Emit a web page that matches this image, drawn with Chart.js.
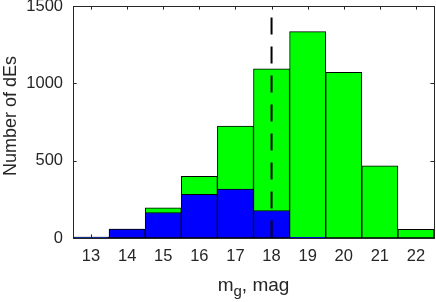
<!DOCTYPE html>
<html lang="en">
<head>
    <meta charset="UTF-8">
    <title>Number of dEs</title>
    <script src="https://cdn.jsdelivr.net/npm/chart.js"></script>
    <style>
        body {
            margin: 0;
            background-color: #fff;
        }
        #wrap {
            width: 436px;
            height: 302px;
        }
    </style>
</head>
<body>

<div id="wrap">
    <canvas id="histChart" width="436" height="302"></canvas>
</div>

<script>
// bin centres and counts
const mags = [13, 14, 15, 16, 17, 18, 19, 20, 21, 22];
const allCounts = [6, 58, 195, 399, 723, 1093, 1334, 1071, 467, 56];
const blueCounts = [6, 58, 165, 282, 316, 178, 4, 0, 0, 0];
const xTicks = [13, 14, 15, 16, 17, 18, 19, 20, 21, 22];
const yTicks = [0, 500, 1000, 1500];
const cutMag = 18;
const cutTop = 1425;

const axisColor = '#262626';
const fontName = "'Liberation Sans', Arial, sans-serif";

// box round the plot with inward ticks, MATLAB style
const boxPlugin = {
    id: 'box',
    beforeDatasetsDraw(chart) {
        const ctx = chart.ctx;
        const a = chart.chartArea;
        const xs = chart.scales.x;
        const ys = chart.scales.y;
        const len = 3.6;
        ctx.save();
        ctx.strokeStyle = axisColor;
        ctx.lineWidth = 1;
        ctx.beginPath();
        xTicks.forEach(v => {
            const px = Math.round(xs.getPixelForValue(v)) + 0.5;
            ctx.moveTo(px, a.bottom);
            ctx.lineTo(px, a.bottom - len);
            ctx.moveTo(px, a.top);
            ctx.lineTo(px, a.top + len);
        });
        yTicks.forEach(v => {
            const py = Math.round(ys.getPixelForValue(v)) + 0.5;
            ctx.moveTo(a.left, py);
            ctx.lineTo(a.left + len, py);
            ctx.moveTo(a.right, py);
            ctx.lineTo(a.right - len, py);
        });
        ctx.stroke();
        ctx.restore();
    },
    afterDraw(chart) {
        const ctx = chart.ctx;
        const a = chart.chartArea;
        ctx.save();
        ctx.strokeStyle = axisColor;
        ctx.lineWidth = 1;
        ctx.strokeRect(Math.round(a.left) + 0.5, Math.round(a.top) + 0.5,
            Math.round(a.right - a.left), Math.round(a.bottom - a.top));

        // axis titles
        ctx.fillStyle = axisColor;
        ctx.textBaseline = 'alphabetic';

        // x title with subscript g
        const big = '19px ' + fontName;
        const small = '15px ' + fontName;
        ctx.font = big;
        const w1 = ctx.measureText('m').width;
        const w3 = ctx.measureText(', mag').width;
        ctx.font = small;
        const w2 = ctx.measureText('g').width;
        const total = w1 + w2 + w3;
        let x = (a.left + a.right) / 2 - total / 2;
        const base = 291;
        ctx.textAlign = 'left';
        ctx.font = big;
        ctx.fillText('m', x, base);
        x += w1;
        ctx.font = small;
        ctx.fillText('g', x, base + 5);
        x += w2;
        ctx.font = big;
        ctx.fillText(', mag', x, base);

        // y title
        ctx.translate(16, 116);
        ctx.rotate(-Math.PI / 2);
        ctx.textAlign = 'center';
        ctx.font = '18px ' + fontName;
        ctx.fillText('Number of dEs', 0, 0);
        ctx.restore();
    }
};

const ctx = document.getElementById('histChart').getContext('2d');

new Chart(ctx, {
    type: 'bar',
    data: {
        datasets: [
            {
                type: 'line',
                data: [{x: cutMag, y: cutTop}, {x: cutMag, y: 0}],
                borderColor: '#000',
                borderWidth: 2,
                borderDash: [17, 12],
                pointRadius: 0,
                fill: false,
                order: 0
            },
            {
                data: mags.map((m, i) => ({x: m, y: blueCounts[i]})),
                backgroundColor: '#0000ff',
                borderColor: '#000',
                borderWidth: 1,
                borderSkipped: false,
                grouped: false,
                barPercentage: 1,
                categoryPercentage: 1,
                order: 1
            },
            {
                data: mags.map((m, i) => ({x: m, y: allCounts[i]})),
                backgroundColor: '#00ff00',
                borderColor: '#000',
                borderWidth: 1,
                borderSkipped: false,
                grouped: false,
                barPercentage: 1,
                categoryPercentage: 1,
                order: 2
            }
        ]
    },
    options: {
        responsive: false,
        animation: false,
        layout: {
            padding: {top: 6, right: 2, left: 0, bottom: 0}
        },
        plugins: {
            legend: {display: false},
            tooltip: {enabled: false}
        },
        scales: {
            x: {
                type: 'linear',
                min: 12.5,
                max: 22.5,
                offset: false,
                afterBuildTicks: s => { s.ticks = xTicks.map(v => ({value: v})); },
                afterFit: s => { s.height = 64; s.paddingLeft = 0; s.paddingRight = 0; },
                grid: {display: false, drawTicks: false, offset: false},
                border: {display: false},
                ticks: {
                    padding: 9,
                    color: axisColor,
                    font: {family: fontName, size: 16.5},
                    callback: v => String(v)
                }
            },
            y: {
                min: 0,
                max: 1500,
                afterBuildTicks: s => { s.ticks = yTicks.map(v => ({value: v})); },
                afterFit: s => { s.width = 73; s.paddingTop = 0; s.paddingBottom = 0; },
                grid: {display: false, drawTicks: false},
                border: {display: false},
                ticks: {
                    padding: 10,
                    color: axisColor,
                    font: {family: fontName, size: 16.5},
                    callback: v => String(v)
                }
            }
        }
    },
    plugins: [boxPlugin]
});
</script>

</body>
</html>
